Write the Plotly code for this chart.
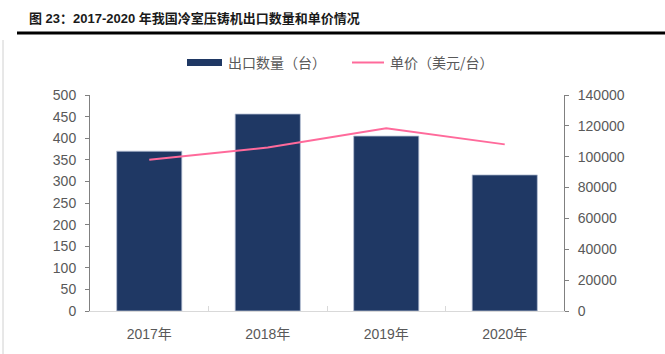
import plotly.graph_objects as go

years = ["2017年", "2018年", "2019年", "2020年"]
export_qty = [370, 456, 405, 315]
unit_price = [98000, 106000, 118500, 108000]
left_ticks = [0, 50, 100, 150, 200, 250, 300, 350, 400, 450, 500]
right_ticks = [0, 20000, 40000, 60000, 80000, 100000, 120000, 140000]

W, H = 665, 354
L, R, T, B = 90, 101, 95, 43
font_family = "Liberation Sans, Arial, Noto Sans CJK SC, sans-serif"
tick_color = "#595959"
bar_color = "#1F3864"
line_color = "#FF6A9B"

fig = go.Figure()
fig.add_trace(go.Bar(x=years, y=export_qty, name="出口数量（台）", marker=dict(color=bar_color, line=dict(color="#B8C2D6", width=0.8)), width=0.55, showlegend=False))
fig.add_trace(go.Scatter(x=years, y=unit_price, name="单价（美元/台）", mode="lines", line=dict(color=line_color, width=2), yaxis="y2", showlegend=False))

fig.update_layout(
    width=W, height=H,
    margin=dict(l=L, r=R, t=T, b=B),
    paper_bgcolor="white", plot_bgcolor="white",
    font=dict(family=font_family, size=13, color=tick_color),
    xaxis=dict(showline=True, linecolor="#D9D9D9", linewidth=1, ticks="inside", tickson="boundaries", ticklen=5, tickcolor="#D9D9D9", tickfont=dict(size=14, color=tick_color, family=font_family), showgrid=False, ticklabelstandoff=10),
    yaxis=dict(range=[0, 500], tickvals=left_ticks, showline=True, linecolor="#808080", linewidth=1, ticks="outside", ticklen=4, tickcolor="#808080", showgrid=False, zeroline=False, tickfont=dict(size=14, color=tick_color), ticklabelstandoff=6),
    yaxis2=dict(range=[0, 140000], tickvals=right_ticks, ticktext=[str(v) for v in right_ticks], overlaying="y", side="right", showline=True, linecolor="#808080", linewidth=1, ticks="outside", ticklen=4, tickcolor="#808080", showgrid=False, zeroline=False, tickfont=dict(size=14, color=tick_color), ticklabelstandoff=6),
    bargap=0.45,
)

# Title and rule
fig.add_annotation(xref="paper", yref="paper", x=-(L - 27) / (W - L - R), y=1 + (T - 18) / (H - T - B), xanchor="left", yanchor="middle", showarrow=False,
                   text="<b>图 23：2017-2020 年我国冷室压铸机出口数量和单价情况</b>", font=dict(size=13, color="#1a1a1a", family="Liberation Sans, Noto Sans CJK SC, sans-serif"))
fig.add_shape(type="line", xref="paper", yref="paper", x0=-(L - 17) / (W - L - R), x1=1 + R / (W - L - R), y0=1 + (T - 33) / (H - T - B), y1=1 + (T - 33) / (H - T - B), line=dict(color="black", width=3))
fig.add_shape(type="line", xref="paper", yref="paper", x0=-(L - 3) / (W - L - R), x1=-(L - 3) / (W - L - R), y0=-B / (H - T - B), y1=1 + (T - 40) / (H - T - B), line=dict(color="#D0D0D0", width=1))

# Manual legend
pw, ph = W - L - R, H - T - B
def px(x):
    return (x - L) / pw
def py(y):
    return (H - B - y) / ph
fig.add_shape(type="rect", xref="paper", yref="paper", x0=px(187), x1=px(222), y0=py(66), y1=py(59), fillcolor=bar_color, line=dict(width=0))
fig.add_annotation(xref="paper", yref="paper", x=px(226), y=py(62.5), xanchor="left", yanchor="middle", showarrow=False, text="出口数量（台）", font=dict(size=14, color=tick_color, family="Noto Sans CJK SC"))
fig.add_shape(type="line", xref="paper", yref="paper", x0=px(352), x1=px(384), y0=py(62.5), y1=py(62.5), line=dict(color=line_color, width=2))
fig.add_annotation(xref="paper", yref="paper", x=px(388), y=py(62.5), xanchor="left", yanchor="middle", showarrow=False, text="单价（美元/台）", font=dict(size=14, color=tick_color, family="Noto Sans CJK SC"))

fig.write_html("out.html")
